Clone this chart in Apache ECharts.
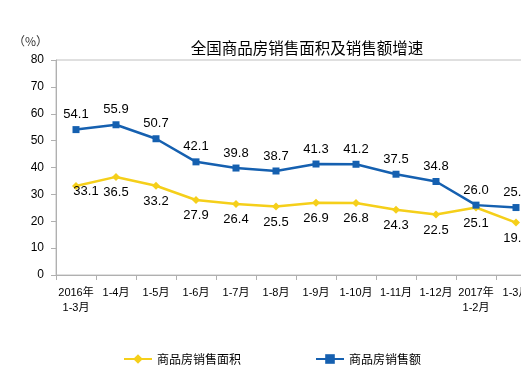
<!DOCTYPE html>
<html>
<head>
<meta charset="utf-8">
<script src="https://cdn.jsdelivr.net/npm/echarts@6/dist/echarts.min.js"></script>
<style>html,body{margin:0;padding:0;background:#fff}#c{width:521px;height:391px}</style>
</head>
<body>
<div id="c"></div>
<script>
const categories = ['2016年\n1-3月','1-4月','1-5月','1-6月','1-7月','1-8月','1-9月','1-10月','1-11月','1-12月','2017年\n1-2月','1-3月'];
const areaGrowth = [33.1, 36.5, 33.2, 27.9, 26.4, 25.5, 26.9, 26.8, 24.3, 22.5, 25.1, 19.5];
const salesGrowth = [54.1, 55.9, 50.7, 42.1, 39.8, 38.7, 41.3, 41.2, 37.5, 34.8, 26.0, 25.1];
const yTicks = {min: 0, max: 80, interval: 10};

const FONT = "'Liberation Sans','Noto Sans CJK SC',sans-serif";
const chart = echarts.init(document.getElementById('c'), null, {renderer: 'canvas'});
const yellow = '#F5CF1A', blue = '#1560B0';

const areaData = areaGrowth.map((v, i) => i === 0 ? {value: v, label: {offset: [10, -10]}} : v);

chart.setOption({
  animation: false,
  title: [
    {text: '全国商品房销售面积及销售额增速', left: 302, top: 35, textAlign: 'center',
     textStyle: {fontFamily: "'Noto Sans CJK SC',sans-serif", fontSize: 15.5, fontWeight: 'normal', color: '#000'}},
    {text: '（%）', left: 8, top: 30,
     textStyle: {fontFamily: "'Noto Sans CJK SC',sans-serif", fontSize: 12, fontWeight: 'normal', color: '#333'}}
  ],
  grid: {left: 56, top: 60, height: 215, width: 480, containLabel: false, outerBoundsMode: 'none',
         show: true, borderColor: '#c0c0c0', borderWidth: 1},
  legend: {
    left: 118, top: 348, itemWidth: 28, itemHeight: 12, itemGap: 74,
    textStyle: {fontFamily: "'Noto Sans CJK SC',sans-serif", fontSize: 12, color: '#000'},
    data: ['商品房销售面积', '商品房销售额']
  },
  xAxis: {
    type: 'category', data: categories, boundaryGap: true,
    axisLine: {lineStyle: {color: '#b0b0b0'}},
    axisTick: {show: true, alignWithLabel: false, length: 5, lineStyle: {color: '#b0b0b0'}},
    axisLabel: {interval: 0, fontFamily: FONT, fontSize: 11, color: '#000', lineHeight: 15, margin: 10}
  },
  yAxis: {
    type: 'value', min: yTicks.min, max: yTicks.max, interval: yTicks.interval,
    splitLine: {show: false},
    axisLine: {show: true, lineStyle: {color: '#b0b0b0'}},
    axisTick: {show: true, length: 5, lineStyle: {color: '#b0b0b0'}},
    axisLabel: {fontFamily: FONT, fontSize: 12, color: '#000', margin: 12}
  },
  series: [
    {
      name: '商品房销售面积', type: 'line', data: areaData,
      symbol: 'diamond', symbolSize: 8,
      lineStyle: {color: yellow, width: 2.5}, itemStyle: {color: yellow},
      label: {show: true, position: 'bottom', distance: 5, fontFamily: FONT, fontSize: 13, color: '#000',
              formatter: p => Number(p.value).toFixed(1)}
    },
    {
      name: '商品房销售额', type: 'line', data: salesGrowth,
      symbol: 'rect', symbolSize: 7,
      lineStyle: {color: blue, width: 2.5}, itemStyle: {color: blue},
      label: {show: true, position: 'top', distance: 5, fontFamily: FONT, fontSize: 13, color: '#000',
              formatter: p => Number(p.value).toFixed(1)}
    }
  ]
});
</script>
</body>
</html>
